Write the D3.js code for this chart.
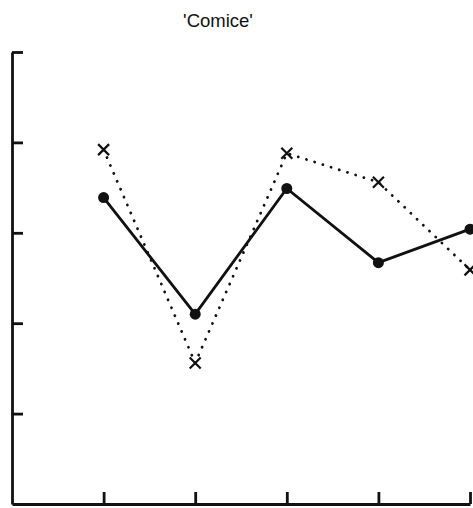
<!DOCTYPE html>
<html>
<head>
<meta charset="utf-8">
<script src="https://cdn.jsdelivr.net/npm/d3@7"></script>
<style>
  body { margin: 0; background: #fff; }
  svg { display: block; }
</style>
</head>
<body>
<svg width="473" height="508"></svg>
<script>
const TITLE = "'Comice'";
const categories = [1, 2, 3, 4, 5];
const solidSeries = [3.39, 2.1, 3.49, 2.67, 3.04];
const dottedSeries = [3.92, 1.56, 3.88, 3.56, 2.59];
const yTicks = [1, 2, 3, 4, 5];

const svg = d3.select("svg");

const x = d3.scaleLinear().domain([0, 5]).range([12, 470]);
const y = d3.scaleLinear().domain([0, 5]).range([504, 52]);

svg
  .append("text")
  .attr("x", 218)
  .attr("y", 27)
  .attr("text-anchor", "middle")
  .attr("font-family", "Liberation Sans, Arial, sans-serif")
  .attr("font-size", 18.5)
  .attr("fill", "#111")
  .text(TITLE);

// axes: ticks point into the plot
const yAxis = svg
  .append("g")
  .attr("transform", `translate(${x(0)},0)`)
  .call(d3.axisRight(y).tickValues(yTicks).tickSize(11).tickSizeOuter(0).tickFormat(""));

const xAxis = svg
  .append("g")
  .attr("transform", `translate(0,${y(0)})`)
  .call(d3.axisTop(x).tickValues(categories).tickSize(12).tickSizeOuter(0).tickFormat(""));

[yAxis, xAxis].forEach((g) => {
  g.selectAll("path, line").attr("stroke", "#111").attr("stroke-width", 2.8);
});

const line = d3
  .line()
  .x((d, i) => x(categories[i]))
  .y((d) => y(d));

svg
  .append("path")
  .datum(dottedSeries)
  .attr("d", line)
  .attr("fill", "none")
  .attr("stroke", "#111")
  .attr("stroke-width", 2.8)
  .attr("stroke-linecap", "round")
  .attr("stroke-dasharray", "0.1,8.5");

svg
  .append("path")
  .datum(solidSeries)
  .attr("d", line)
  .attr("fill", "none")
  .attr("stroke", "#111")
  .attr("stroke-width", 2.8);

svg
  .append("g")
  .selectAll("circle")
  .data(solidSeries)
  .enter()
  .append("circle")
  .attr("cx", (d, i) => x(categories[i]))
  .attr("cy", (d) => y(d))
  .attr("r", 5.5)
  .attr("fill", "#111");

const s = 5.5;
svg
  .append("g")
  .selectAll("path")
  .data(dottedSeries)
  .enter()
  .append("path")
  .attr("transform", (d, i) => `translate(${x(categories[i])},${y(d)})`)
  .attr("d", `M${-s},${-s}L${s},${s}M${-s},${s}L${s},${-s}`)
  .attr("stroke", "#111")
  .attr("stroke-width", 2.2);
</script>
</body>
</html>
